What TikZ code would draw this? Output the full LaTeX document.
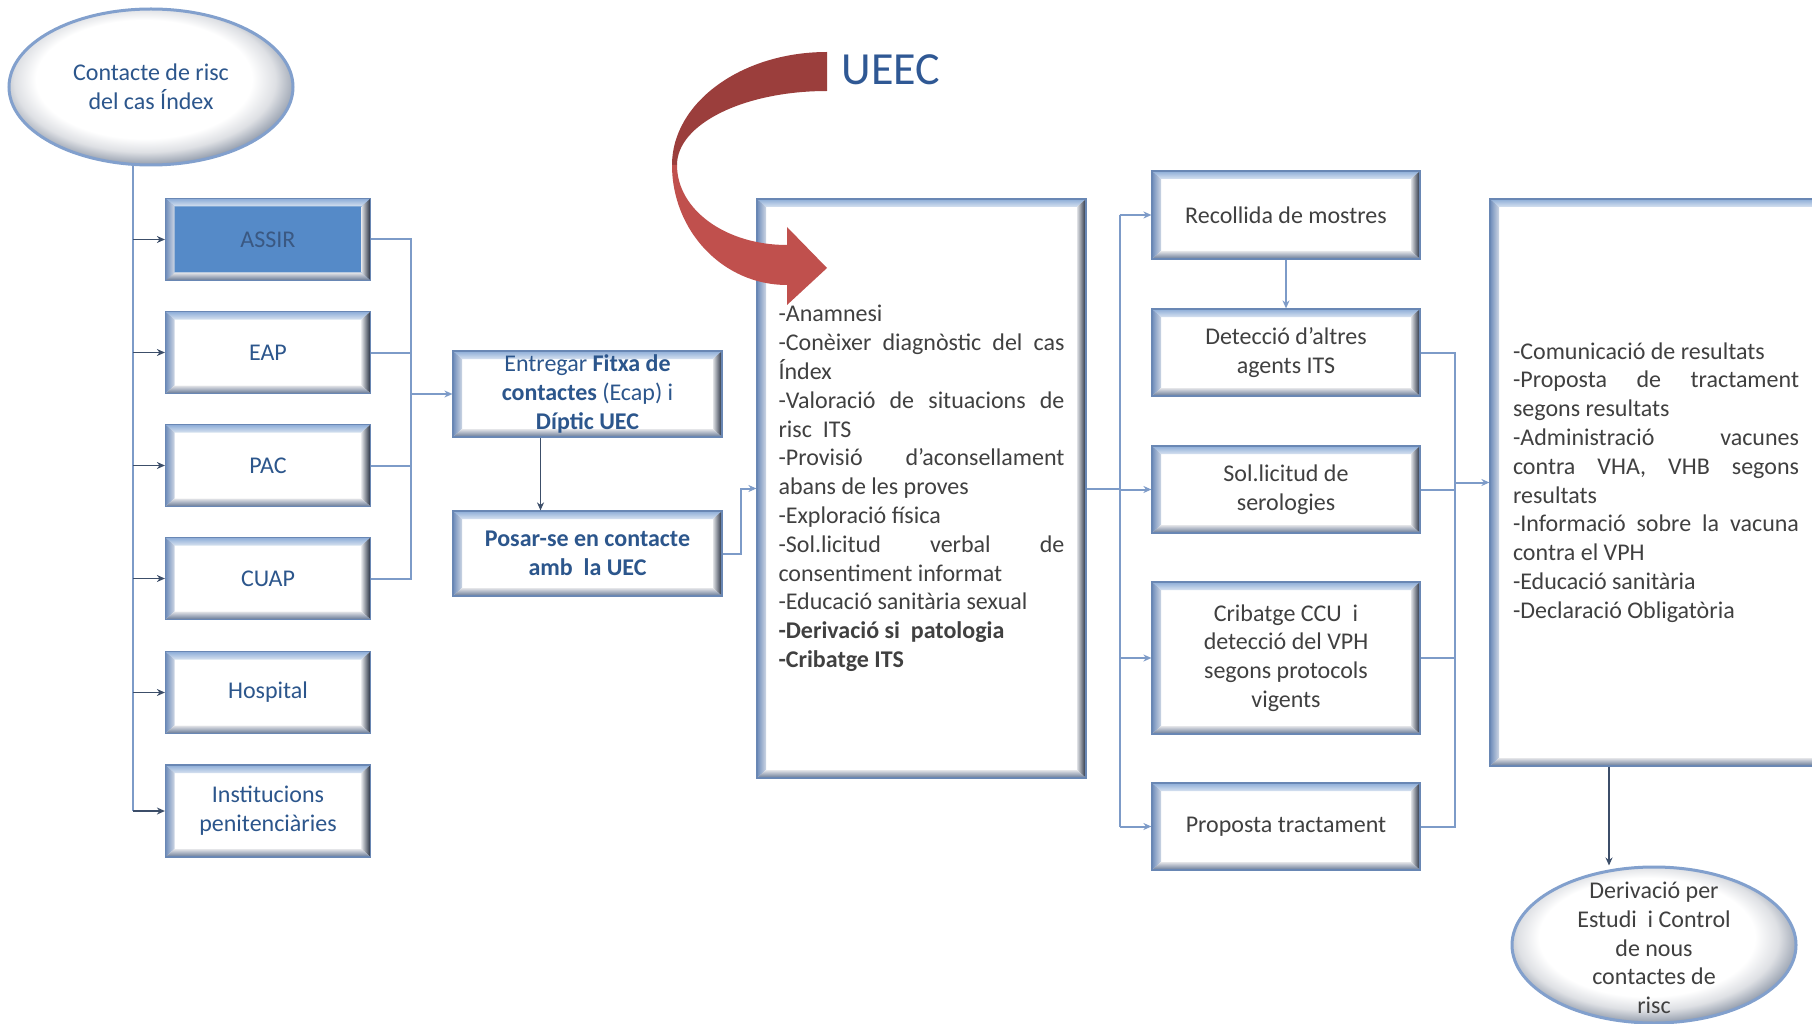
\documentclass[tikz,border=0pt]{standalone}
\usepackage{fontspec}
\setmainfont{Carlito}
\usepackage{tikz}
\usetikzlibrary{arrows.meta, shapes.geometric}

\definecolor{boxtext}{RGB}{44,86,140}
\definecolor{graytext}{RGB}{64,64,64}
\definecolor{assirfill}{RGB}{85,138,200}
\definecolor{assirtext}{RGB}{58,88,130}
\definecolor{bvtop}{RGB}{140,172,215}
\definecolor{bvtopin}{RGB}{215,226,240}
\definecolor{bvleft}{RGB}{110,140,186}
\definecolor{bvleftin}{RGB}{205,214,228}
\definecolor{bvright}{RGB}{32,42,60}
\definecolor{bvrightin}{RGB}{222,224,228}
\definecolor{bvbottom}{RGB}{100,118,148}
\definecolor{bvbottomin}{RGB}{228,229,232}
\definecolor{bvedge}{RGB}{105,135,180}
\definecolor{linkcol}{RGB}{125,155,200}
\definecolor{darkcol}{RGB}{60,78,105}
\definecolor{ovalrim}{RGB}{130,160,205}
\definecolor{ovalgray}{RGB}{125,137,156}
\definecolor{ribbondark}{RGB}{155,62,60}
\definecolor{ribbonred}{RGB}{192,80,77}
\definecolor{titleblue}{RGB}{47,88,148}

\pgfdeclareradialshading{ovalshading}{\pgfpoint{-2bp}{4bp}}{%
  color(0bp)=(white); color(19bp)=(white); color(23bp)=(bvrightin); color(28bp)=(ovalgray); color(50bp)=(ovalgray)}

% bevelled frame inside a box node
\newcommand{\bevelframe}{%
  \coordinate (bv-nw) at (path picture bounding box.north west);
  \coordinate (bv-ne) at (path picture bounding box.north east);
  \coordinate (bv-sw) at (path picture bounding box.south west);
  \coordinate (bv-se) at (path picture bounding box.south east);
  \shade[top color=bvtop, bottom color=bvtopin] (bv-nw) -- (bv-ne) -- ([shift={(-9pt,-8pt)}]bv-ne) -- ([shift={(9pt,-8pt)}]bv-nw) -- cycle;
  \shade[left color=bvleft, right color=bvleftin] (bv-nw) -- ([shift={(9pt,-8pt)}]bv-nw) -- ([shift={(9pt,8pt)}]bv-sw) -- (bv-sw) -- cycle;
  \shade[left color=bvrightin, right color=bvright] (bv-ne) -- ([shift={(-9pt,-8pt)}]bv-ne) -- ([shift={(-9pt,8pt)}]bv-se) -- (bv-se) -- cycle;
  \shade[top color=bvbottomin, bottom color=bvbottom] (bv-sw) -- ([shift={(9pt,8pt)}]bv-sw) -- ([shift={(-9pt,8pt)}]bv-se) -- (bv-se) -- cycle;
}

\tikzset{
  box/.style={rectangle, fill=white, draw=bvedge, line width=1.2pt, inner xsep=10pt, inner ysep=0pt,
    align=center, text=boxtext, path picture={\bevelframe}},
  leftbox/.style={box, minimum width=205pt, minimum height=82pt},
  midbox/.style={box, text=graytext, minimum width=268pt, minimum height=87pt},
  listbox/.style={box, text=graytext, text width=286pt, align=justify},
  oval/.style={ellipse, draw=ovalrim, line width=3pt, shade, shading=ovalshading,
    minimum width=284pt, minimum height=156pt, inner sep=0pt},
  link/.style={draw=linkcol, line width=2pt},
  darklink/.style={draw=darkcol, line width=1.6pt}
}

\begin{document}
\begin{tikzpicture}[x=1pt, y=-1pt, font=\fontsize{24}{28.8}\selectfont, >={Stealth[length=8pt,width=7pt]}]
  \fill[white] (0,0) rectangle (1812,1024);
  \useasboundingbox (0,0) rectangle (1812,1024);

  % Index case
  \node[oval, text=boxtext, align=center] (contact) at (151,87) {Contacte de risc\\del cas Índex};

  % Services
  \node[leftbox, fill=assirfill, text=assirtext] (assir) at (268,239.5) {ASSIR};
  \node[leftbox] (eap) at (268,352.5) {EAP};
  \node[leftbox] (pac) at (268,465.5) {PAC};
  \node[leftbox] (cuap) at (268,578.5) {CUAP};
  \node[leftbox] (hosp) at (268,692.5) {Hospital};
  \node[leftbox, minimum height=92pt] (inst) at (268,811) {Institucions\\penitenciàries};

  % First steps
  \node[box, minimum width=269pt, minimum height=86pt] (fitxa) at (587.5,394)
    {Entregar \textbf{Fitxa de}\\\textbf{contactes} (Ecap) i\\\textbf{Díptic UEC}};
  \node[box, minimum width=269pt, minimum height=85pt] (posar) at (587.5,553.5)
    {\textbf{Posar-se en contacte}\\\textbf{amb\ \ la UEC}};

  % UEC visit
  \node[listbox, minimum height=579pt, inner xsep=21.5pt] (mid) at (921.5,488.5) {%
    -Anamnesi\par
    -Conèixer diagnòstic del cas\linebreak Índex\par
    -Valoració de situacions de\linebreak risc\ \ ITS\par
    -Provisió d’aconsellament\linebreak abans de les proves\par
    -Exploració física\par
    -Sol.licitud verbal de\linebreak consentiment informat\par
    -Educació sanitària sexual\par
    \textbf{-Derivació si\ \ patologia}\par
    \textbf{-Cribatge ITS}};

  % Tests
  \node[midbox, minimum height=88pt] (reco) at (1286,215) {Recollida de mostres};
  \node[midbox] (det) at (1286,352.5) {Detecció d’altres\\agents ITS};
  \node[midbox] (sol) at (1286,489.5) {Sol.licitud de\\serologies};
  \node[midbox, minimum height=152pt] (crib) at (1286,658) {Cribatge CCU\ \ i\\detecció del VPH\\segons protocols\\vigents};
  \node[midbox] (prop) at (1286,826.5) {Proposta tractament};

  % Results
  \node[listbox, minimum height=567pt, inner xsep=23pt] (res) at (1656,482.5) {%
    -Comunicació de resultats\par
    -Proposta de tractament\linebreak segons resultats\par
    -Administració vacunes\linebreak contra VHA, VHB segons\linebreak resultats\par
    -Informació sobre la vacuna\linebreak contra el VPH\par
    -Educació sanitària\par
    -Declaració Obligatòria};

  \node[oval, label={[text=graytext, align=center, yshift=-3pt]center:{Derivació per\\Estudi\ \ i Control\\de nous\\contactes de\\risc}}] (deriv) at (1654,945) {};

  % Title and ribbon arrow
  \node[anchor=base west, text=titleblue, font=\fontsize{46}{50}\selectfont] (ueec) at (838,85) {UEEC};
  \fill[ribbondark] (827,52) .. controls (741,52) and (672,103) .. (672,165) -- (677,165)
    .. controls (677,124) and (744,91) .. (827,91) -- cycle;
  \fill[ribbonred] (672,165) .. controls (672,231) and (723,285) .. (787,285) -- (787,305) -- (827,268)
    -- (787,227) -- (787,245) .. controls (726,245) and (677,210) .. (677,165) -- cycle;

  % Left trunk
  \coordinate (trunk) at ([xshift=-18pt]contact.south);
  \draw[link] (trunk) -- (trunk |- inst.west);
  \draw[darklink,->] (trunk |- assir.west) -- (assir.west);
  \draw[darklink,->] (trunk |- eap.west) -- (eap.west);
  \draw[darklink,->] (trunk |- pac.west) -- (pac.west);
  \draw[darklink,->] (trunk |- cuap.west) -- (cuap.west);
  \draw[darklink,->] (trunk |- hosp.west) -- (hosp.west);
  \draw[darklink,->] (trunk |- inst.west) -- (inst.west);

  % Services to first steps
  \coordinate (busA) at ([xshift=40pt]assir.east);
  \draw[link] (assir.east) -- (busA) -- (busA |- cuap.east) -- (cuap.east);
  \draw[link] (eap.east) -- (eap.east -| busA);
  \draw[link] (pac.east) -- (pac.east -| busA);
  \draw[link,->] (busA |- fitxa.west) -- (fitxa.west);
  \draw[darklink,->] ([xshift=-47pt]fitxa.south) -- ([xshift=-47pt]posar.north);
  \draw[link,->] (posar.east) -- ++(18pt,0pt) |- (mid.west);

  % Visit to tests
  \coordinate (busB) at ([xshift=33pt]mid.east);
  \draw[link] (mid.east) -- (busB);
  \draw[link] (busB |- reco.west) -- (busB |- prop.west);
  \draw[link,->] (busB |- reco.west) -- (reco.west);
  \draw[link,->] (busB |- sol.west) -- (sol.west);
  \draw[link,->] (busB |- crib.west) -- (crib.west);
  \draw[link,->] (busB |- prop.west) -- (prop.west);
  \draw[link,->] (reco.south) -- (det.north);

  % Tests to results
  \coordinate (busC) at ([xshift=34pt]det.east);
  \draw[link] (det.east) -- (busC) -- (busC |- prop.east) -- (prop.east);
  \draw[link] (sol.east) -- (sol.east -| busC);
  \draw[link] (crib.east) -- (crib.east -| busC);
  \draw[link,->] (busC |- res.west) -- (res.west);
  \draw[darklink,->] ([xshift=-47pt]res.south) -- ([xshift=-47pt]res.south |- deriv.north);
\end{tikzpicture}
\end{document}
